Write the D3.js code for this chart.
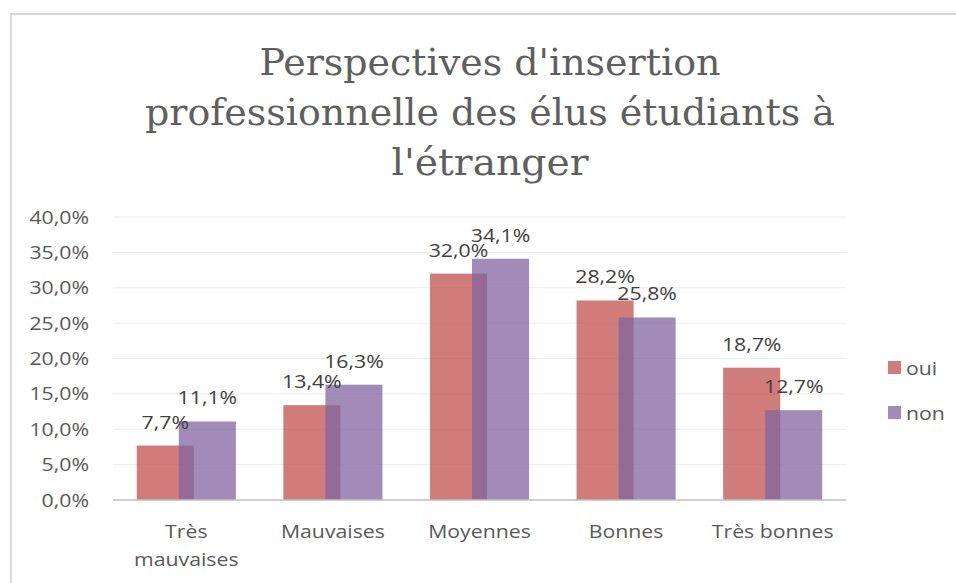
<!DOCTYPE html>
<html>
<head>
<meta charset="utf-8">
<script src="https://cdn.jsdelivr.net/npm/d3@7"></script>
<style>
  html, body { margin: 0; padding: 0; background: #fff; }
  svg { display: block; }
</style>
</head>
<body>
<svg id="chart" width="956" height="583"></svg>
<script>
// ---- data ----
const titleLines = ["Perspectives d'insertion", "professionnelle des élus étudiants à", "l'étranger"];
const categories = ["Très mauvaises", "Mauvaises", "Moyennes", "Bonnes", "Très bonnes"];
const categoryLines = [["Très", "mauvaises"], ["Mauvaises"], ["Moyennes"], ["Bonnes"], ["Très bonnes"]];
const seriesNames = ["oui", "non"];
const ouiValues = [0.077, 0.134, 0.320, 0.282, 0.187];
const nonValues = [0.111, 0.163, 0.341, 0.258, 0.127];
const yTicks = [0, 0.05, 0.10, 0.15, 0.20, 0.25, 0.30, 0.35, 0.40];

const series = [
  { name: seriesNames[0], values: ouiValues, color: "#C0504D" },
  { name: seriesNames[1], values: nonValues, color: "#8064A2" }
];

// ---- layout ----
const svg = d3.select("#chart");
const plotLeft = 113, plotRight = 846, plotTop = 217, plotBottom = 500;
const fontSans = "'Open Sans', 'Noto Sans', sans-serif";
const sx = 1.15;
const fmt = v => d3.format(".1f")(v * 100).replace(".", ",") + "%";

// frame
svg.append("rect")
  .attr("x", 11).attr("y", 14)
  .attr("width", 1000).attr("height", 1000)
  .attr("fill", "none").attr("stroke", "#d9d9d9").attr("stroke-width", 2);

// title
const titleWidths = [461, 690, 197];
const titleG = svg.append("g");
titleLines.forEach((t, i) => {
  titleG.append("text")
    .attr("x", 490).attr("y", 75 + i * 50)
    .attr("text-anchor", "middle")
    .attr("font-family", "'DejaVu Serif Condensed', 'DejaVu Serif', serif")
    .style("font-stretch", "condensed")
    .attr("font-size", 37)
    .attr("fill", "#5f5f5f")
    .attr("textLength", titleWidths[i])
    .attr("lengthAdjust", "spacingAndGlyphs")
    .text(t);
});

const x = d3.scaleBand().domain(categories).range([plotLeft, plotRight]).paddingInner(0).paddingOuter(0);
const y = d3.scaleLinear().domain([0, 0.40]).range([plotBottom, plotTop]);

function stretchedText(g, px, py, anchor, str, color) {
  return g.append("text")
    .attr("transform", `translate(${px},${py}) scale(${sx},1)`)
    .attr("text-anchor", anchor)
    .attr("font-family", fontSans)
    .attr("font-size", 18.5)
    .attr("fill", color)
    .text(str);
}

// gridlines
svg.append("g").selectAll("line")
  .data(yTicks.filter(d => d > 0))
  .join("line")
  .attr("x1", plotLeft).attr("x2", plotRight)
  .attr("y1", d => y(d)).attr("y2", d => y(d))
  .attr("stroke", "#ebebeb").attr("stroke-width", 1);

// y tick labels
const yg = svg.append("g");
yTicks.forEach(t => stretchedText(yg, 89, y(t) + 6.5, "end", fmt(t), "#595959"));

// bars
const bw = x.bandwidth();
const barW = bw * 0.389;
const step = bw * 0.287;
const groupW = step + barW;
const barsG = svg.append("g");
series.forEach((s, si) => {
  barsG.append("g").selectAll("rect")
    .data(s.values)
    .join("rect")
    .attr("x", (d, i) => x(categories[i]) + bw / 2 - groupW / 2 + si * step)
    .attr("y", d => y(d))
    .attr("width", barW)
    .attr("height", d => plotBottom - y(d))
    .attr("fill", s.color)
    .attr("fill-opacity", 0.75);
});

// axis line
svg.append("line")
  .attr("x1", plotLeft).attr("x2", plotRight)
  .attr("y1", plotBottom).attr("y2", plotBottom)
  .attr("stroke", "#bfbfbf").attr("stroke-width", 1.5);

// data labels
const lg = svg.append("g");
series.forEach((s, si) => {
  s.values.forEach((v, i) => {
    const cx = x(categories[i]) + bw / 2 - groupW / 2 + si * step + barW / 2;
    stretchedText(lg, cx, y(v) - 17, "middle", fmt(v), "#404040");
  });
});

// x labels
const xg = svg.append("g");
categories.forEach((c, i) => {
  const cx = x(c) + bw / 2;
  categoryLines[i].forEach((line, li) => {
    stretchedText(xg, cx, 538 + li * 28, "middle", line, "#595959");
  });
});

// legend
const legG = svg.append("g");
series.forEach((s, si) => {
  const ly = 361 + si * 45;
  legG.append("rect")
    .attr("x", 888).attr("y", ly).attr("width", 13).attr("height", 13)
    .attr("fill", s.color).attr("fill-opacity", 0.75);
  stretchedText(legG, 906, ly + 14, "start", s.name, "#595959");
});
</script>
</body>
</html>
